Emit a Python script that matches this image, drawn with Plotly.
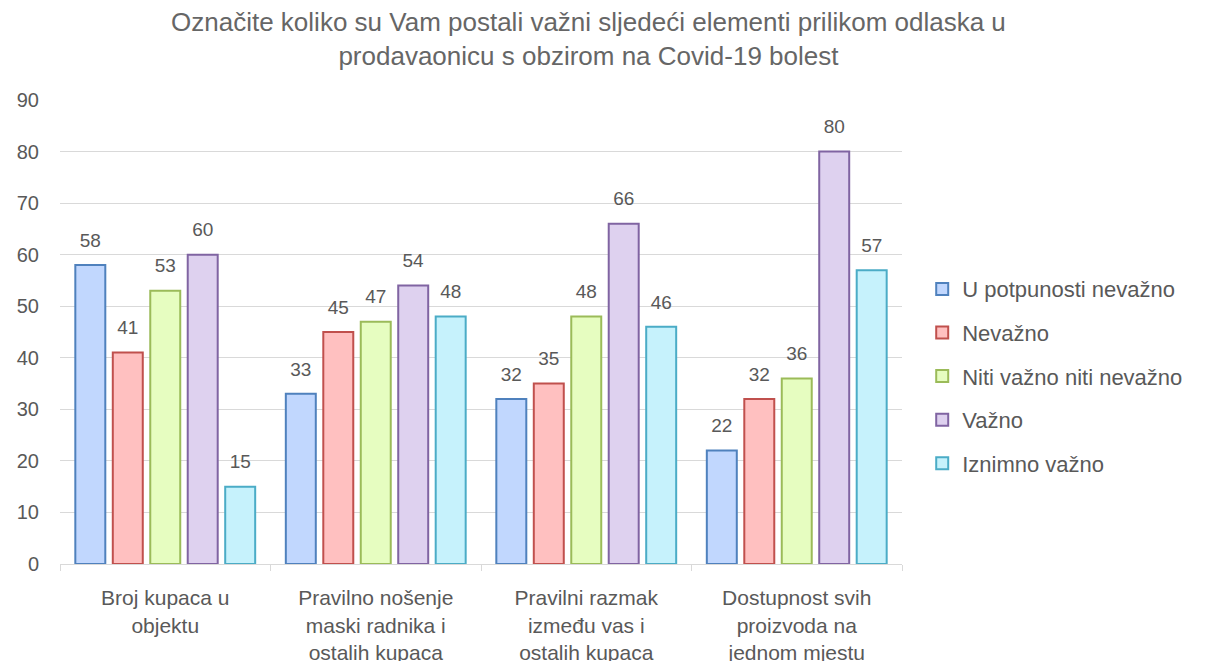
import plotly.graph_objects as go

categories = ["Broj kupaca u<br>objektu",
              "Pravilno nošenje<br>maski radnika i<br>ostalih kupaca",
              "Pravilni razmak<br>između vas i<br>ostalih kupaca",
              "Dostupnost svih<br>proizvoda na<br>jednom mjestu"]

series_names = ["U potpunosti nevažno", "Nevažno", "Niti važno niti nevažno",
                "Važno", "Iznimno važno"]

u_potpunosti = [58, 33, 32, 22]
nevazno = [41, 45, 35, 32]
niti = [53, 47, 48, 36]
vazno = [60, 54, 66, 80]
iznimno = [15, 48, 46, 57]

values = [u_potpunosti, nevazno, niti, vazno, iznimno]
fills = ["#C1D7FE", "#FFC0C0", "#E6FDC0", "#DED1EF", "#C6F2FC"]
borders = ["#4F81BD", "#C0504D", "#9BBB59", "#8064A2", "#4BACC6"]

LABEL_PAD = 2.2  # extra room between a bar and its value label

fig = go.Figure()
for i, (name, vals, fc, lc) in enumerate(zip(series_names, values, fills, borders)):
    fig.add_trace(go.Bar(
        x=categories, y=vals, name=name, legendgroup=name, offsetgroup=str(i),
        marker=dict(color=fc, line=dict(color=lc, width=2)),
    ))
    # invisible bar sitting on top, only to carry the value label a bit higher
    fig.add_trace(go.Bar(
        x=categories, y=[LABEL_PAD] * len(vals), base=vals, offsetgroup=str(i),
        marker=dict(color="rgba(0,0,0,0)", line=dict(width=0)),
        text=vals, textposition="outside", cliponaxis=False,
        textfont=dict(size=19, color="#595959"),
        showlegend=False, hoverinfo="skip",
    ))

# the page has an 8px body margin, so margins are shifted by 8px
fig.update_layout(
    width=1222, height=661,
    paper_bgcolor="white", plot_bgcolor="white",
    font=dict(family="Liberation Sans, Arial, sans-serif", color="#595959"),
    title=dict(
        text="Označite koliko su Vam postali važni sljedeći elementi prilikom odlaska u<br>prodavaonicu s obzirom na Covid-19 bolest",
        x=0.475, xanchor="center", yref="container", y=0.965, yanchor="middle",
        font=dict(size=26, color="#666666"),
    ),
    margin=dict(l=52, r=328, t=92, b=105),
    barmode="group", bargap=0.11, bargroupgap=0.2,
    legend=dict(x=1.024, xanchor="left", y=0.405, yanchor="middle",
                font=dict(size=22, color="#595959"), tracegroupgap=12,
                itemwidth=30),
    showlegend=True,
)
fig.update_yaxes(range=[0, 90], dtick=10, gridcolor="#D9D9D9", gridwidth=1,
                 zeroline=False, showline=False, automargin=False,
                 tickfont=dict(size=20, color="#595959"), ticklabelstandoff=20)
fig.update_xaxes(showline=True, linecolor="#D9D9D9", linewidth=1,
                 ticks="outside", tickson="boundaries", ticklen=6,
                 tickcolor="#D9D9D9", automargin=False, ticklabelstandoff=15,
                 tickfont=dict(size=21, color="#595959"))

fig.write_html("out.html")
